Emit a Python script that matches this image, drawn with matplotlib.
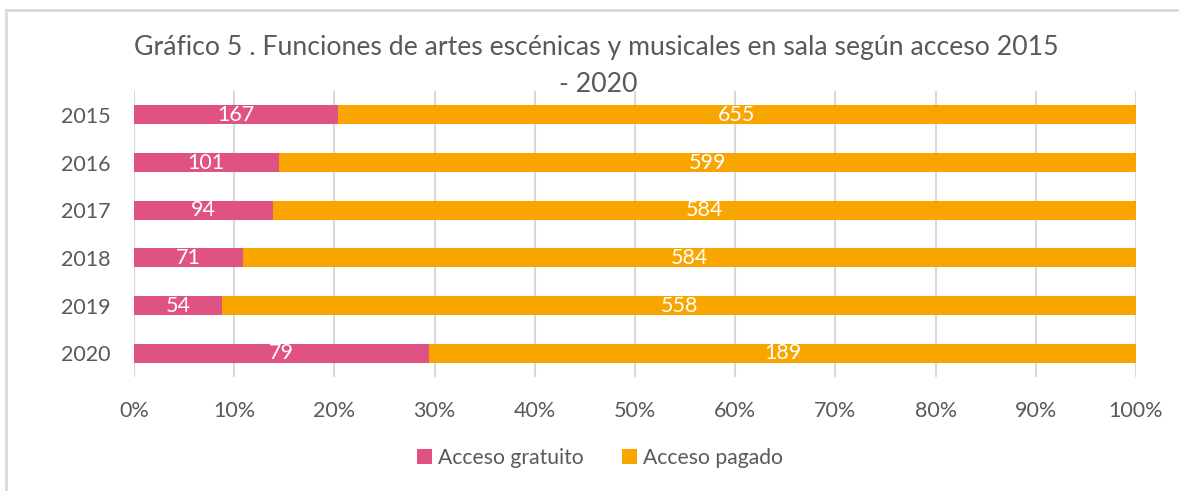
import numpy as np
import matplotlib.pyplot as plt
from matplotlib.patches import Rectangle

# Data
years = ['2015', '2016', '2017', '2018', '2019', '2020']
gratuito = [167, 101, 94, 71, 54, 79]
pagado = [655, 599, 584, 584, 558, 189]

pink = '#E05283'
orange = '#F9A500'
gray_text = '#595959'
grid_col = '#D9D9D9'

plt.rcParams['font.family'] = ['Lato', 'DejaVu Sans']

W, H = 1179, 491
fig = plt.figure(figsize=(W / 100, H / 100), dpi=100)
ax = fig.add_axes([134 / W, 1 - 377 / H, (1136 - 134) / W, (377 - 91) / H])

g = np.array(gratuito, dtype=float)
p = np.array(pagado, dtype=float)
tot = g + p
gp = g / tot * 100
pp = p / tot * 100
y = np.arange(len(years))

ax.barh(y, gp, height=0.4, color=pink, label='Acceso gratuito', zorder=3)
ax.barh(y, pp, left=gp, height=0.4, color=orange, label='Acceso pagado', zorder=3)

for i in range(len(years)):
    ax.text(gp[i] / 2, y[i], str(gratuito[i]), color='white', ha='center', va='center',
            fontsize=15.5, zorder=4)
    ax.text(gp[i] + pp[i] / 2, y[i], str(pagado[i]), color='white', ha='center', va='center',
            fontsize=15.5, zorder=4)

ax.set_xlim(0, 100)
ax.set_ylim(len(years) - 0.5, -0.5)
ax.set_yticks(y)
ax.set_yticklabels(years)
ax.set_xticks(np.arange(0, 101, 10))
ax.set_xticklabels([f'{v}%' for v in range(0, 101, 10)])
ax.tick_params(axis='both', length=0, labelsize=15.5, labelcolor=gray_text)
ax.tick_params(axis='y', pad=17)
ax.tick_params(axis='x', pad=17)
ax.grid(axis='x', color=grid_col, linewidth=1.5, zorder=0)
for s in ax.spines.values():
    s.set_visible(False)

fig.text(596 / W, 1 - 48 / H,
         'Gráfico 5 . Funciones de artes escénicas y musicales en sala según acceso 2015',
         ha='center', va='center', fontsize=19.2, color=gray_text)
fig.text(598 / W, 1 - 85 / H, '- 2020', ha='center', va='center', fontsize=19.2, color=gray_text)

fig.legend(loc='center', bbox_to_anchor=(600 / W, 1 - 458 / H), ncol=2, frameon=False,
           fontsize=15.2, labelcolor=gray_text, handlelength=0.7, handleheight=0.7,
           handletextpad=0.3, columnspacing=1.8)

# chart border
fig.patches.append(Rectangle((6 / W, -0.1), 1.2, 1 - 10 / H + 0.1, transform=fig.transFigure,
                             fill=False, edgecolor=grid_col, linewidth=2))

fig.savefig('out.png', dpi=100)
